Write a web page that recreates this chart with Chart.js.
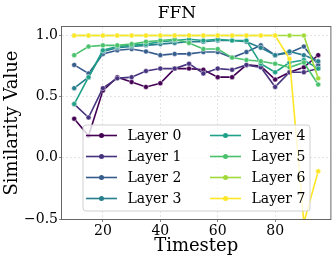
<!DOCTYPE html>
<html>
<head>
<meta charset="utf-8">
<script src="https://cdn.jsdelivr.net/npm/chart.js@4/dist/chart.umd.min.js"></script>
<style>
  html, body { margin: 0; padding: 0; background: #fff; }
  #chart { display: block; }
</style>
</head>
<body>
<canvas id="chart" width="335" height="261"></canvas>
<script>
// --- data ---
const timesteps = [10, 15, 20, 25, 30, 35, 40, 45, 50, 55, 60, 65, 70, 75, 80, 85, 90, 95];
const layerNames = ['Layer 0', 'Layer 1', 'Layer 2', 'Layer 3', 'Layer 4', 'Layer 5', 'Layer 6', 'Layer 7'];
const layer0 = [0.32, 0.18, 0.55, 0.66, 0.62, 0.58, 0.61, 0.73, 0.73, 0.72, 0.66, 0.66, 0.76, 0.75, 0.64, 0.70, 0.74, 0.84];
const layer1 = [0.44, 0.33, 0.57, 0.65, 0.66, 0.71, 0.73, 0.73, 0.77, 0.69, 0.73, 0.72, 0.76, 0.74, 0.58, 0.70, 0.70, 0.73];
const layer2 = [0.76, 0.69, 0.85, 0.88, 0.89, 0.87, 0.84, 0.85, 0.85, 0.865, 0.865, 0.82, 0.865, 0.92, 0.84, 0.86, 0.91, 0.76];
const layer3 = [0.57, 0.66, 0.87, 0.90, 0.91, 0.92, 0.93, 0.94, 0.95, 0.95, 0.96, 0.96, 0.95, 0.90, 0.84, 0.87, 0.84, 0.79];
const layer4 = [0.44, 0.66, 0.88, 0.91, 0.92, 0.93, 0.95, 0.96, 0.97, 0.96, 0.97, 0.96, 0.96, 0.77, 0.70, 0.78, 0.80, 0.73];
const layer5 = [0.84, 0.91, 0.92, 0.92, 0.93, 0.95, 0.96, 0.97, 0.94, 0.89, 0.89, 0.82, 0.80, 0.79, 0.77, 0.74, 0.78, 0.60];
const layer6 = [1.0, 1.0, 1.0, 1.0, 1.0, 1.0, 1.0, 1.0, 1.0, 1.0, 1.0, 1.0, 1.0, 1.0, 1.0, 1.0, 1.0, 0.65];
const layer7 = [1.0, 1.0, 1.0, 1.0, 1.0, 1.0, 1.0, 1.0, 1.0, 1.0, 1.0, 1.0, 1.0, 1.0, 1.0, 0.81, -0.53, -0.11];
const xTicks = [20, 40, 60, 80];
const yTicks = [-0.5, 0.0, 0.5, 1.0];

// viridis, 8 steps
const colors = ['#440154', '#46327e', '#365c8d', '#277f8e', '#1fa187', '#4ac16d', '#a0da39', '#fde725'];
const series = [layer0, layer1, layer2, layer3, layer4, layer5, layer6, layer7];

const serif = '"DejaVu Serif", "Liberation Serif", serif';

const datasets = series.map((vals, i) => ({
    label: layerNames[i],
    data: vals.map((v, j) => ({x: timesteps[j], y: v})),
    borderColor: colors[i],
    backgroundColor: colors[i],
    borderWidth: 1.6,
    pointRadius: 2.5,
    pointBorderWidth: 0.6,
    pointBorderColor: 'rgba(255,255,255,0.8)',
    pointBackgroundColor: colors[i],
    tension: 0,
    order: 7 - i   // later layers on top, like matplotlib
}));

// title, frame and the legend inside the axes
const extras = {
    id: 'extras',
    afterDraw(chart) {
        const ctx = chart.ctx;
        const a = chart.chartArea;
        ctx.save();

        ctx.fillStyle = '#000';
        ctx.font = '17px ' + serif;
        ctx.textAlign = 'center';
        ctx.textBaseline = 'alphabetic';
        ctx.fillText('FFN', 177, 17.5);

        ctx.strokeStyle = '#666';
        ctx.lineWidth = 1;
        ctx.strokeRect(a.left - 0.5, a.top - 0.5, a.right - a.left + 1, a.bottom - a.top + 1);

        // legend box
        const bx = 83, by = 125, bw = 227, bh = 86, r = 3;
        ctx.beginPath();
        ctx.moveTo(bx + r, by);
        ctx.arcTo(bx + bw, by, bx + bw, by + bh, r);
        ctx.arcTo(bx + bw, by + bh, bx, by + bh, r);
        ctx.arcTo(bx, by + bh, bx, by, r);
        ctx.arcTo(bx, by, bx + bw, by, r);
        ctx.closePath();
        ctx.fillStyle = 'rgba(255,255,255,0.8)';
        ctx.fill();
        ctx.strokeStyle = '#d0d0d0';
        ctx.lineWidth = 1;
        ctx.stroke();

        ctx.font = '14px ' + serif;
        ctx.textAlign = 'left';
        ctx.textBaseline = 'middle';
        chart.data.datasets.forEach((ds, i) => {
            const col = Math.floor(i / 4), row = i % 4;
            const y = 135.5 + row * 21;
            const x0 = col ? 210 : 86;
            ctx.strokeStyle = ds.borderColor;
            ctx.lineWidth = 1.6;
            ctx.beginPath();
            ctx.moveTo(x0, y);
            ctx.lineTo(x0 + 31, y);
            ctx.stroke();
            ctx.fillStyle = ds.borderColor;
            ctx.beginPath();
            ctx.arc(x0 + 15.5, y, 2.5, 0, Math.PI * 2);
            ctx.fill();
            ctx.fillStyle = '#000';
            ctx.fillText(ds.label, x0 + 41.5, y + 0.5);
        });
        ctx.restore();
    }
};

const ctx = document.getElementById('chart').getContext('2d');
const chart = new Chart(ctx, {
    type: 'line',
    data: {datasets: datasets},
    options: {
        responsive: false,
        animation: false,
        devicePixelRatio: 1,
        layout: {padding: {top: 27, right: 4, left: 0, bottom: 0}},
        plugins: {
            legend: {display: false},
            tooltip: {enabled: false},
            title: {display: false}
        },
        scales: {
            x: {
                type: 'linear',
                min: 5.75,
                max: 99.25,
                afterBuildTicks: s => { s.ticks = xTicks.map(v => ({value: v})); },
                afterFit: s => { s.height = 42; },
                ticks: {
                    color: '#000',
                    font: {family: serif, size: 14},
                    padding: 1,
                    maxRotation: 0,
                    callback: v => String(v)
                },
                grid: {
                    color: '#dddddd',
                    lineWidth: 0.8,
                    tickLength: 3,
                    tickColor: '#666',
                    tickBorderDash: []
                },
                border: {display: false, dash: [2, 2]},
                title: {
                    display: true,
                    text: 'Timestep',
                    color: '#000',
                    font: {family: serif, size: 18},
                    padding: {top: 0, bottom: 4}
                }
            },
            y: {
                min: -0.5,
                max: 1.07,
                afterBuildTicks: s => { s.ticks = yTicks.map(v => ({value: v})); },
                afterFit: s => { s.width = 62; },
                ticks: {
                    color: '#000',
                    font: {family: serif, size: 14},
                    padding: 1,
                    callback: v => (v < 0 ? '\u2212' : '') + Math.abs(v).toFixed(1)
                },
                grid: {
                    color: '#dddddd',
                    lineWidth: 0.8,
                    tickLength: 3,
                    tickColor: '#666',
                    tickBorderDash: []
                },
                border: {display: false, dash: [2, 2]},
                title: {
                    display: true,
                    text: 'Similarity Value',
                    color: '#000',
                    font: {family: serif, size: 18},
                    padding: {top: 2, bottom: 0}
                }
            }
        }
    },
    plugins: [extras]
});
</script>
</body>
</html>
